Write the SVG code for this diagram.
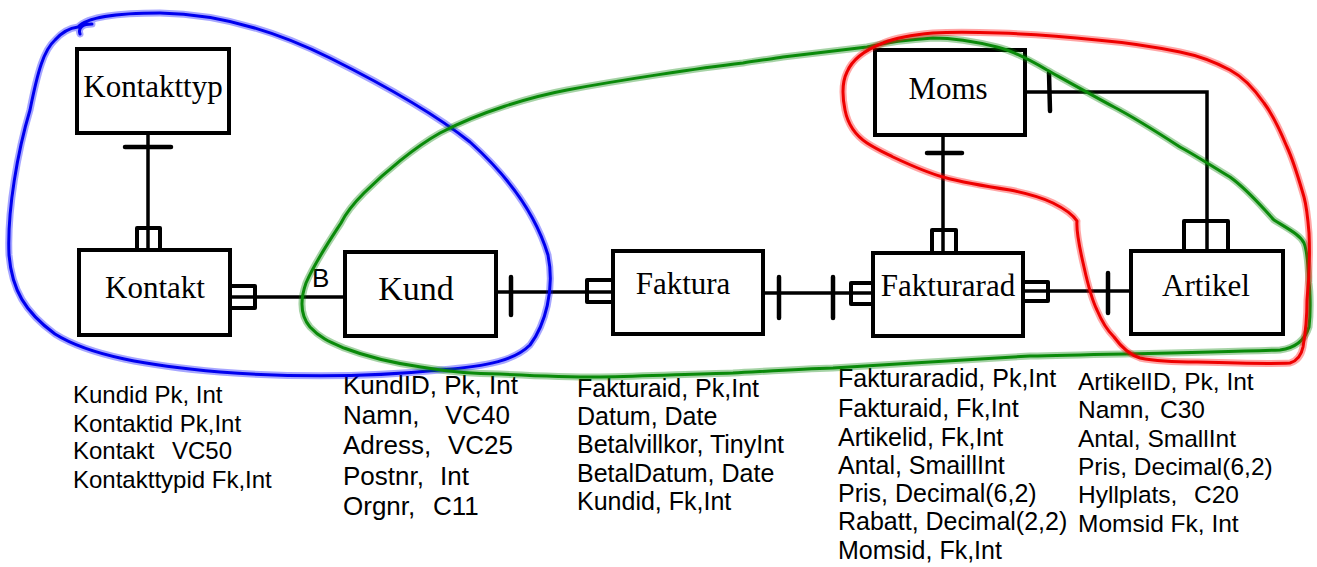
<svg xmlns="http://www.w3.org/2000/svg" width="1317" height="567" viewBox="0 0 1317 567">
<style>
.box{fill:#fff;stroke:#000;stroke-width:4}
.lbl{font-family:"Liberation Serif","Times New Roman",serif;font-size:31px;text-anchor:middle;fill:#000}
.attr{font-family:"Liberation Sans",Arial,sans-serif;font-size:24px;fill:#000}
.ln{fill:none;stroke:#000;stroke-width:3.5}
.bar{fill:none;stroke:#000;stroke-width:4.5;stroke-linecap:round}
.fork{fill:none;stroke:#000;stroke-width:4;stroke-linejoin:round}
.halo{fill:none;stroke-width:7;stroke-opacity:0.35;stroke-linejoin:round;stroke-linecap:round}
.core{fill:none;stroke-width:3;stroke-linejoin:round;stroke-linecap:round}
</style>
<rect width="1317" height="567" fill="#fff"/>
<g id="connectors">
  <line class="ln" x1="148" y1="135" x2="148" y2="250"/>
  <line class="bar" x1="125" y1="147" x2="171" y2="147"/>
  <path class="fork" d="M137,250 V228 H160 V250"/>
  <line class="ln" x1="232" y1="297" x2="345" y2="297"/>
  <path class="fork" d="M232,286 H255 V308 H232"/>
  <line class="ln" x1="498" y1="292" x2="611" y2="292"/>
  <line class="bar" x1="511" y1="277" x2="511" y2="315"/>
  <path class="fork" d="M611,280 H587 V302 H611"/>
  <line class="ln" x1="765" y1="293" x2="871" y2="293"/>
  <line class="bar" x1="779" y1="277" x2="779" y2="318"/>
  <line class="bar" x1="833" y1="277" x2="833" y2="318"/>
  <path class="fork" d="M871,283 H851 V304 H871"/>
  <line class="ln" x1="1025" y1="291" x2="1129" y2="291"/>
  <path class="fork" d="M1025,282 H1048 V301 H1025"/>
  <line class="bar" x1="1108" y1="273" x2="1108" y2="313"/>
  <line class="ln" x1="943" y1="137" x2="943" y2="251"/>
  <line class="bar" x1="927" y1="153" x2="962" y2="153"/>
  <path class="fork" d="M932,251 V230 H956 V251"/>
  <path class="ln" d="M1027,92 H1207 V249"/>
  <line class="bar" x1="1049" y1="73" x2="1050" y2="111"/>
  <path class="fork" d="M1184,249 V221 H1228 V249"/>
  <text x="312" y="287" class="attr" style="font-size:26px">B</text>
</g>
<g id="kontakttyp">
  <rect class="box" x="77" y="49" width="152" height="84"/>
  <text class="lbl" x="153" y="97">Kontakttyp</text>
</g>
<g id="kontakt">
  <rect class="box" x="79" y="250" width="151" height="85"/>
  <text class="lbl" x="155" y="298">Kontakt</text>
  <text class="attr" x="73" y="403">Kundid Pk, Int</text>
  <text class="attr" x="73" y="432">Kontaktid Pk,Int</text>
  <text class="attr" x="73" y="459">Kontakt<tspan x="172">VC50</tspan></text>
  <text class="attr" x="73" y="488">Kontakttypid Fk,Int</text>
</g>
<g id="kund">
  <rect class="box" x="345" y="252" width="151" height="84"/>
  <text class="lbl" x="416" y="300" style="font-size:34px">Kund</text>
  <g class="attr" style="font-size:26px">
    <text x="343" y="394">KundID, Pk, Int</text>
    <text x="343" y="424">Namn,<tspan x="445">VC40</tspan></text>
    <text x="343" y="454">Adress,<tspan x="448">VC25</tspan></text>
    <text x="343" y="485">Postnr,<tspan x="440">Int</tspan></text>
    <text x="343" y="515">Orgnr,<tspan x="433">C11</tspan></text>
  </g>
</g>
<g id="faktura">
  <rect class="box" x="613" y="251" width="150" height="83"/>
  <text class="lbl" x="683" y="294">Faktura</text>
  <g class="attr" style="font-size:25px">
    <text x="577" y="397">Fakturaid, Pk,Int</text>
    <text x="577" y="425">Datum, Date</text>
    <text x="577" y="453">Betalvillkor, TinyInt</text>
    <text x="577" y="482">BetalDatum, Date</text>
    <text x="577" y="510">Kundid, Fk,Int</text>
  </g>
</g>
<g id="fakturarad">
  <rect class="box" x="873" y="253" width="150" height="83"/>
  <text class="lbl" x="948" y="296">Fakturarad</text>
  <g class="attr" style="font-size:25px">
    <text x="838" y="387">Fakturaradid, Pk,Int</text>
    <text x="838" y="417">Fakturaid, Fk,Int</text>
    <text x="838" y="446">Artikelid, Fk,Int</text>
    <text x="838" y="474">Antal, SmaillInt</text>
    <text x="838" y="502">Pris, Decimal(6,2)</text>
    <text x="838" y="530">Rabatt, Decimal(2,2)</text>
    <text x="838" y="559">Momsid, Fk,Int</text>
  </g>
</g>
<g id="moms">
  <rect class="box" x="875" y="50" width="150" height="85"/>
  <text class="lbl" x="948" y="99">Moms</text>
</g>
<g id="artikel">
  <rect class="box" x="1131" y="251" width="152" height="83"/>
  <text class="lbl" x="1206" y="296">Artikel</text>
  <g class="attr" style="font-size:24.5px">
    <text x="1078" y="390">ArtikelID, Pk, Int</text>
    <text x="1078" y="418">Namn,<tspan x="1160">C30</tspan></text>
    <text x="1078" y="447">Antal, SmallInt</text>
    <text x="1078" y="475">Pris, Decimal(6,2)</text>
    <text x="1078" y="503">Hyllplats,<tspan x="1194">C20</tspan></text>
    <text x="1078" y="532">Momsid Fk, Int</text>
  </g>
</g>
<g id="groupings">
  <path id="blue" class="halo" stroke="#0000ff" d="M80,34 C78,28 82,24 92,24 M78,27 C88,16 120,13 160,13 C230,14 290,38 330,58 C390,88 440,118 470,142 C510,178 536,215 548,255 C555,290 545,325 530,345 C515,360 490,366 440,370 C380,376 300,378 220,372 C150,366 90,356 55,334 C25,312 12,290 9,255 C7,210 18,150 30,110 C38,70 44,50 55,40 C62,32 70,28 78,27 Z"/>
  <path class="core" stroke="#0000ee" d="M80,34 C78,28 82,24 92,24 M78,27 C88,16 120,13 160,13 C230,14 290,38 330,58 C390,88 440,118 470,142 C510,178 536,215 548,255 C555,290 545,325 530,345 C515,360 490,366 440,370 C380,376 300,378 220,372 C150,366 90,356 55,334 C25,312 12,290 9,255 C7,210 18,150 30,110 C38,70 44,50 55,40 C62,32 70,28 78,27 Z"/>
  <path id="green" class="halo" stroke="#008000" d="M743,63 C700,68 620,80 567,90 C530,97 480,112 440,133 C415,147 385,172 364,193 C350,207 345,215 341,223 C330,240 315,262 306,283 C300,300 300,315 310,327 C320,338 330,342 344,348 C370,358 400,364 421,367 C450,372 470,374 500,374 C540,376 570,377 600,377 C650,376 690,374 733,373 C770,371 800,369 833,368 C900,364 960,360 1030,356 C1100,354 1200,353 1280,350 C1295,348 1305,340 1309,327 C1311,310 1310,290 1309,283 C1308,260 1307,250 1304,243 C1300,235 1290,230 1274,220 C1260,205 1248,190 1230,177 C1210,165 1195,155 1180,147 C1160,134 1135,118 1114,107 C1090,94 1065,80 1047,70 C1030,60 1010,50 997,47 C985,44 960,38 933,38 C900,40 880,44 867,47 C840,50 810,54 783,57 C770,59 755,61 743,63 Z"/>
  <path class="core" stroke="#0a8a0a" d="M743,63 C700,68 620,80 567,90 C530,97 480,112 440,133 C415,147 385,172 364,193 C350,207 345,215 341,223 C330,240 315,262 306,283 C300,300 300,315 310,327 C320,338 330,342 344,348 C370,358 400,364 421,367 C450,372 470,374 500,374 C540,376 570,377 600,377 C650,376 690,374 733,373 C770,371 800,369 833,368 C900,364 960,360 1030,356 C1100,354 1200,353 1280,350 C1295,348 1305,340 1309,327 C1311,310 1310,290 1309,283 C1308,260 1307,250 1304,243 C1300,235 1290,230 1274,220 C1260,205 1248,190 1230,177 C1210,165 1195,155 1180,147 C1160,134 1135,118 1114,107 C1090,94 1065,80 1047,70 C1030,60 1010,50 997,47 C985,44 960,38 933,38 C900,40 880,44 867,47 C840,50 810,54 783,57 C770,59 755,61 743,63 Z"/>
  <path id="red" class="halo" stroke="#ff0000" d="M1077,221 C1076,232 1080,250 1084,267 C1088,285 1092,300 1097,310 C1102,322 1107,330 1114,337 C1122,348 1130,355 1140,358 C1160,362 1180,362 1197,362 C1230,363 1270,364 1290,363 C1300,360 1302,352 1303,347 C1306,330 1307,315 1307,300 C1309,280 1310,255 1309,233 C1308,220 1307,208 1304,197 C1299,180 1294,162 1287,147 C1280,130 1273,115 1264,103 C1255,90 1245,78 1230,70 C1215,62 1200,56 1180,52 C1150,46 1120,42 1097,40 C1060,36 1030,34 1000,33 C970,32 950,32 933,33 C910,35 895,38 883,43 C865,50 852,60 847,72 C842,82 842,95 845,110 C848,125 855,135 867,143 C878,150 885,153 893,157 C910,165 925,172 943,177 C965,183 990,187 1010,190 C1030,194 1045,199 1053,203 C1063,208 1072,213 1077,221 Z"/>
  <path class="core" stroke="#ee0000" d="M1077,221 C1076,232 1080,250 1084,267 C1088,285 1092,300 1097,310 C1102,322 1107,330 1114,337 C1122,348 1130,355 1140,358 C1160,362 1180,362 1197,362 C1230,363 1270,364 1290,363 C1300,360 1302,352 1303,347 C1306,330 1307,315 1307,300 C1309,280 1310,255 1309,233 C1308,220 1307,208 1304,197 C1299,180 1294,162 1287,147 C1280,130 1273,115 1264,103 C1255,90 1245,78 1230,70 C1215,62 1200,56 1180,52 C1150,46 1120,42 1097,40 C1060,36 1030,34 1000,33 C970,32 950,32 933,33 C910,35 895,38 883,43 C865,50 852,60 847,72 C842,82 842,95 845,110 C848,125 855,135 867,143 C878,150 885,153 893,157 C910,165 925,172 943,177 C965,183 990,187 1010,190 C1030,194 1045,199 1053,203 C1063,208 1072,213 1077,221 Z"/>
</g>
</svg>
